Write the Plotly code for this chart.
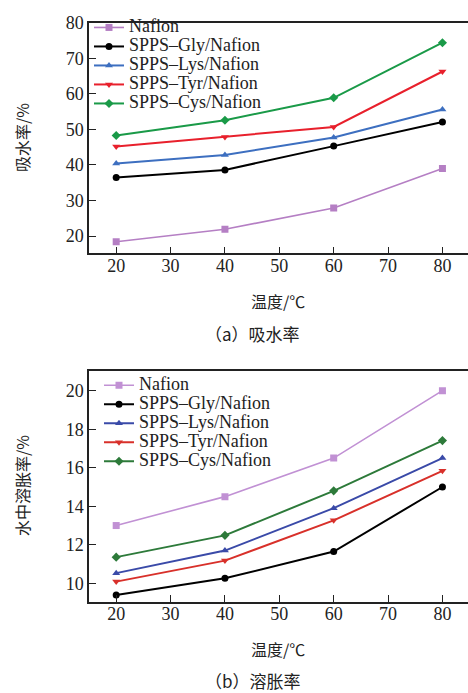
import plotly.graph_objects as go

temps = [20, 40, 60, 80]
series_names = ["Nafion", "SPPS–Gly/Nafion", "SPPS–Lys/Nafion", "SPPS–Tyr/Nafion", "SPPS–Cys/Nafion"]

# (a) water uptake, %
wu_nafion = [18.4, 21.9, 27.9, 39.0]
wu_gly = [36.5, 38.6, 45.3, 52.1]
wu_lys = [40.4, 42.8, 47.7, 55.6]
wu_tyr = [45.2, 47.9, 50.7, 66.3]
wu_cys = [48.3, 52.6, 58.9, 74.4]

# (b) swelling ratio in water, %
sw_nafion = [13.0, 14.5, 16.5, 20.0]
sw_gly = [9.4, 10.26, 11.65, 15.0]
sw_lys = [10.53, 11.7, 13.9, 16.5]
sw_tyr = [10.09, 11.18, 13.27, 15.84]
sw_cys = [11.36, 12.49, 14.8, 17.41]

x_ticks = [20, 30, 40, 50, 60, 70, 80]
y_ticks_a = [20, 30, 40, 50, 60, 70, 80]
y_ticks_b = [10, 12, 14, 16, 18, 20]

colors_a = ["#b57fc4", "#000000", "#3d6fc0", "#e8202c", "#1a9a48"]
colors_b = ["#c191d4", "#000000", "#3a4aa8", "#d8302a", "#2d7a3a"]
symbols = ["square", "circle", "triangle-up", "triangle-down", "diamond"]

SERIF = "Liberation Serif"
W, H = 468, 693

fig = go.Figure()

data_a = [wu_nafion, wu_gly, wu_lys, wu_tyr, wu_cys]
data_b = [sw_nafion, sw_gly, sw_lys, sw_tyr, sw_cys]

def legend_text(name):
    return f'<span style="font-size:18px">{name}</span>'

for i, (name, ys) in enumerate(zip(series_names, data_a)):
    fig.add_trace(go.Scatter(
        x=temps, y=ys, mode="lines+markers", name=legend_text(name),
        xaxis="x", yaxis="y", legend="legend",
        line=dict(color=colors_a[i], width=2 if i else 1.6),
        marker=dict(symbol=symbols[i], size=7, color=colors_a[i]),
    ))

for i, (name, ys) in enumerate(zip(series_names, data_b)):
    fig.add_trace(go.Scatter(
        x=temps, y=ys, mode="lines+markers", name=legend_text(name),
        xaxis="x2", yaxis="y2", legend="legend2",
        line=dict(color=colors_b[i], width=2 if i else 1.6),
        marker=dict(symbol=symbols[i], size=7, color=colors_b[i]),
    ))

def px_y(p):
    return 1 - p / H

axis_common = dict(
    showline=True, linecolor="#222", linewidth=1.5,
    ticks="inside", ticklen=7, tickwidth=1.2, tickcolor="#222",
    showgrid=False, zeroline=False,
    tickfont=dict(family=SERIF, size=18, color="#222"),
)

x_dom = [89 / W, 1.0]

fig.update_layout(
    width=W, height=H,
    margin=dict(l=0, r=0, t=0, b=0),
    paper_bgcolor="white", plot_bgcolor="white",
    font=dict(family=SERIF, color="#222"),
    xaxis=dict(domain=x_dom, range=[15, 84.7], tickvals=x_ticks, anchor="y",
               mirror=True, ticklabelstandoff=-5, **axis_common),
    yaxis=dict(domain=[px_y(247), px_y(13)], range=[15.1, 80], tickvals=y_ticks_a,
               anchor="x", mirror=False, **axis_common),
    xaxis2=dict(domain=x_dom, range=[15, 84.7], tickvals=x_ticks, anchor="y2",
                mirror=True, ticklabelstandoff=-5, **axis_common),
    yaxis2=dict(domain=[px_y(600.7), px_y(366.7)], range=[9.03, 21.0], tickvals=y_ticks_b,
                anchor="x2", mirror=False, **axis_common),
    legend=dict(x=89 / W, y=px_y(3), xanchor="left", yanchor="top",
                bgcolor="rgba(0,0,0,0)", font=dict(family=SERIF, size=12, color="#222"),
                itemwidth=30, tracegroupgap=0),
    legend2=dict(x=99 / W, y=px_y(366), xanchor="left", yanchor="top",
                 bgcolor="rgba(0,0,0,0)", font=dict(family=SERIF, size=12, color="#222"),
                 itemwidth=30, tracegroupgap=0),
    showlegend=True,
)

CJK = "Noto Sans CJK SC"
ann = [
    dict(text="吸水率/%", x=22 / W, y=px_y(130), textangle=-90, font=dict(family=CJK, size=16, color="#222")),
    dict(text="温度/℃", x=278 / W, y=px_y(295), font=dict(family=CJK, size=16, color="#222")),
    dict(text="（a）吸水率", x=253 / W, y=px_y(328), font=dict(family=CJK, size=17, color="#222")),
    dict(text="水中溶胀率/%", x=22 / W, y=px_y(483), textangle=-90, font=dict(family=CJK, size=16, color="#222")),
    dict(text="温度/℃", x=278 / W, y=px_y(648), font=dict(family=CJK, size=16, color="#222")),
    dict(text="（b）溶胀率", x=253 / W, y=px_y(680), font=dict(family=CJK, size=17, color="#222")),
]
for a in ann:
    fig.add_annotation(xref="paper", yref="paper", showarrow=False,
                       xanchor="center", yanchor="middle", **a)

fig.write_html("out.html", config={"displayModeBar": False},
               post_script="document.body.style.margin='0';")
